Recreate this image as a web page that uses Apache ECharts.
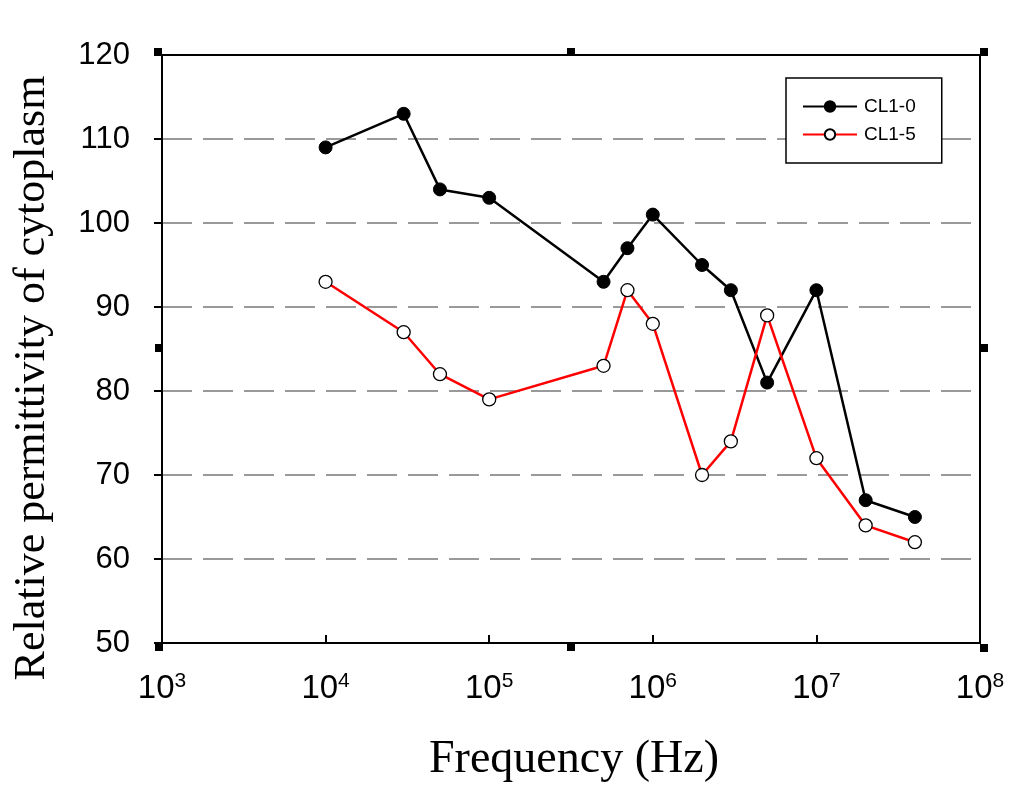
<!DOCTYPE html>
<html><head><meta charset="utf-8">
<script src="https://cdn.jsdelivr.net/npm/echarts@6/dist/echarts.min.js"></script>
<style>html,body{margin:0;padding:0;background:#fff}#c{width:1012px;height:787px}</style>
</head><body><div id="c"></div>
<script>
const frequencies = [1e4, 3e4, 5e4, 1e5, 5e5, 7e5, 1e6, 2e6, 3e6, 5e6, 1e7, 2e7, 4e7];
const cl10 = [109, 113, 104, 103, 93, 97, 101, 95, 92, 81, 92, 67, 65];
const cl15 = [93, 87, 82, 79, 83, 92, 88, 70, 74, 89, 72, 64, 62];
const seriesNames = ['CL1-0', 'CL1-5'];
const yTicks = [50, 60, 70, 80, 90, 100, 110, 120];
const xTitle = 'Frequency (Hz)';
const yTitle = 'Relative permittivity of cytoplasm';

const chart = echarts.init(document.getElementById('c'), null, {renderer: 'canvas'});
function pairs(ys){ return frequencies.map((f,i)=>[f, ys[i]]); }
const sq = (x,y) => ({type:'rect', shape:{x:x, y:y, width:8, height:8}, style:{fill:'#000'}});
chart.setOption({
  animation: false,
  backgroundColor: '#fff',
  grid: {left: 162, right: 32, top: 55, bottom: 144},
  legend: {
    data: seriesNames,
    orient: 'vertical',
    left: 786, top: 78,
    padding: [19, 26, 19, 16],
    itemGap: 9,
    itemWidth: 54, itemHeight: 13,
    borderColor: '#000', borderWidth: 1.5,
    backgroundColor: '#fff',
    textStyle: {fontFamily: 'Liberation Sans', fontSize: 19, color: '#000', padding: [0,0,0,2]}
  },
  xAxis: [{
    type: 'log', min: 1e3, max: 1e8, logBase: 10,
    axisLine: {lineStyle: {color: '#000', width: 2}},
    axisTick: {inside: true, length: 8, lineStyle: {color: '#000', width: 2}},
    minorTick: {show: false},
    splitLine: {show: false},
    axisLabel: {
      margin: 28,
      formatter: v => '{b|10}{s|' + Math.round(Math.log10(v)) + '}',
      rich: {
        b: {fontFamily: 'Liberation Sans', fontSize: 33, color: '#000'},
        s: {fontFamily: 'Liberation Sans', fontSize: 21, color: '#000', verticalAlign: 'top', padding: [0,0,14,0]}
      }
    }
  }, {
    type: 'log', min: 1e3, max: 1e8, position: 'top',
    axisLine: {lineStyle: {color: '#000', width: 2}},
    axisTick: {show: false}, axisLabel: {show: false}, splitLine: {show: false}
  }],
  yAxis: [{
    type: 'value', min: 50, max: 120, interval: 10,
    axisLine: {show: true, lineStyle: {color: '#000', width: 2}},
    axisTick: {show: true, length: 8, lineStyle: {color: '#000', width: 2}},
    axisLabel: {margin: 32, fontFamily: 'Liberation Sans', fontSize: 31, color: '#000',
      formatter: v => yTicks.includes(v) ? String(v) : ''},
    splitLine: {show: true, showMinLine: false, showMaxLine: false,
      lineStyle: {color: '#999', width: 2, type: [30, 11]}}
  }, {
    type: 'value', min: 50, max: 120, interval: 10, position: 'right',
    axisLine: {show: true, lineStyle: {color: '#000', width: 2}},
    axisTick: {show: false}, axisLabel: {show: false}, splitLine: {show: false}
  }],
  series: [{
    name: seriesNames[0], type: 'line', data: pairs(cl10),
    symbol: 'circle', symbolSize: 13,
    lineStyle: {color: '#000', width: 2.5},
    itemStyle: {color: '#000', borderColor: '#000', borderWidth: 1}
  }, {
    name: seriesNames[1], type: 'line', data: pairs(cl15),
    symbol: 'circle', symbolSize: 13,
    lineStyle: {color: '#ff0000', width: 2.5},
    itemStyle: {color: '#fff', borderColor: '#000', borderWidth: 1.3}
  }],
  graphic: [
    sq(154,48), sq(567,48), sq(980,48), sq(155,344), sq(980,344), sq(155,643), sq(567,643), sq(980,644),
    {type:'text', x: 574, y: 760, style:{text: xTitle, font: '46px "Liberation Serif"', fill:'#000', align:'center', verticalAlign:'middle'}},
    {type:'text', x: 32, y: 378, rotation: Math.PI/2, style:{text: yTitle, font: '44px "Liberation Serif"', fill:'#000', align:'center', verticalAlign:'middle'}}
  ]
});
</script></body></html>
